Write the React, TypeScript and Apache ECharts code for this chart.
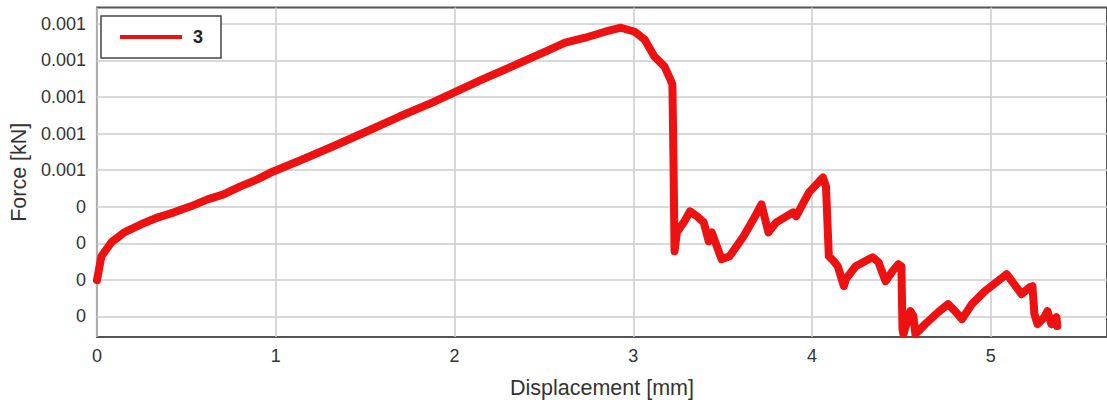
import React, { useEffect, useRef } from "react";
import * as echarts from "echarts";

// Displacement [mm]
const displacement: number[] = [
  0, 0.025, 0.081, 0.153, 0.247, 0.342, 0.431, 0.525, 0.619, 0.708, 0.803, 0.897,
  0.986, 1.081, 1.136, 1.319, 1.508, 1.692, 1.875, 2.008, 2.153, 2.319, 2.508,
  2.619, 2.731, 2.842, 2.931, 3.008, 3.064, 3.119, 3.175, 3.208, 3.219, 3.225,
  3.231, 3.244, 3.283, 3.317, 3.356, 3.394, 3.422, 3.439, 3.494, 3.539, 3.617,
  3.672, 3.717, 3.756, 3.8, 3.894, 3.911, 3.983, 4.061, 4.078, 4.094, 4.122, 4.144,
  4.178, 4.189, 4.244, 4.339, 4.372, 4.411, 4.45, 4.483, 4.5, 4.506, 4.511, 4.55,
  4.567, 4.578, 4.633, 4.706, 4.761, 4.8, 4.839, 4.894, 4.967, 5.039, 5.089, 5.122,
  5.172, 5.217, 5.233, 5.244, 5.261, 5.3, 5.317, 5.339, 5.367, 5.372,
];

// Force [kN]
const force: number[] = [
  0.0001992, 0.0002646, 0.0003028, 0.00033, 0.0003519, 0.000371, 0.0003846,
  0.000401, 0.00042, 0.0004337, 0.0004555, 0.0004746, 0.0004964, 0.0005155,
  0.0005264, 0.0005646, 0.0006055, 0.0006464, 0.0006846, 0.0007146, 0.0007473,
  0.0007827, 0.0008236, 0.0008482, 0.0008618, 0.0008782, 0.0008891, 0.0008782,
  0.0008564, 0.00081, 0.0007827, 0.0007473, 0.0007337, 0.0005291, 0.0002782,
  0.00033, 0.0003573, 0.0003873, 0.0003737, 0.0003573, 0.0003055, 0.00033,
  0.0002564, 0.0002646, 0.0003191, 0.0003655, 0.0004064, 0.00033, 0.0003573,
  0.0003846, 0.0003737, 0.0004391, 0.00048, 0.0004555, 0.0002646, 0.000251,
  0.0002373, 0.0001828, 0.0002019, 0.0002373, 0.0002619, 0.0002482, 0.0001964,
  0.0002237, 0.0002428, 0.0002373, 0.0000655, 0.0000519, 0.0001146, 0.000101,
  0.0000519, 0.0000792, 0.0001119, 0.0001337, 0.0001146, 0.0000928, 0.0001337,
  0.0001692, 0.0001964, 0.0002155, 0.0001937, 0.000161, 0.0001801, 0.0001828,
  0.0001064, 0.0000792, 0.0000982, 0.0001146, 0.0000792, 0.0000982, 0.0000737,
];

// Force axis tick values (labels are shown rounded to 3 decimals)
const yTicks: number[] = [
  0.0001, 0.0002, 0.0003, 0.0004, 0.0005, 0.0006, 0.0007, 0.0008, 0.0009,
];
// Displacement axis tick values
const xTicks: number[] = [0, 1, 2, 3, 4, 5];

const seriesName = "3";
const xTitle = "Displacement [mm]";
const yTitle = "Force [kN]";

export default function App() {
  const ref = useRef<HTMLDivElement>(null);

  useEffect(() => {
    if (!ref.current) return;
    const chart = echarts.init(ref.current, undefined, { renderer: "svg" });
    const data = displacement.map((x, i) => [x, force[i]]);
    const font = "'Liberation Sans', Arial, sans-serif";
    chart.setOption({
      animation: false,
      backgroundColor: "#ffffff",
      grid: {
        left: 95,
        top: 7.5,
        right: -5,
        bottom: 70,
        show: true,
        borderColor: "#555555",
        borderWidth: 2,
        backgroundColor: "transparent",
        containLabel: false,
      },
      legend: {
        show: true,
        left: 101,
        top: 16,
        orient: "horizontal",
        padding: [12, 18, 12, 19],
        borderColor: "#444444",
        borderWidth: 1.5,
        backgroundColor: "#ffffff",
        itemWidth: 62,
        itemHeight: 4,
        icon: "rect",
        itemGap: 10,
        textStyle: {
          fontFamily: font,
          fontWeight: "bold",
          fontSize: 18,
          color: "#222222",
          padding: [0, 0, 0, 6],
        },
        data: [seriesName],
      },
      xAxis: {
        type: "value",
        min: 0,
        max: 5.65,
        name: xTitle,
        nameLocation: "middle",
        nameGap: 40,
        nameTextStyle: { fontFamily: font, fontSize: 21.5, color: "#333333" },
        axisLine: { show: false },
        axisTick: { show: false, customValues: xTicks },
        axisLabel: {
          customValues: xTicks,
          margin: 10,
          fontFamily: font,
          fontSize: 18,
          color: "#333333",
        },
        splitLine: { show: true, lineStyle: { color: "#cccccc", width: 1.5 } },
      },
      yAxis: {
        type: "value",
        min: 0.0000439,
        max: 0.0009444,
        name: yTitle,
        nameLocation: "middle",
        nameGap: 62,
        nameTextStyle: { fontFamily: font, fontSize: 21.5, color: "#333333" },
        axisLine: { show: false },
        axisTick: { show: false, customValues: yTicks },
        axisLabel: {
          customValues: yTicks,
          margin: 11,
          fontFamily: font,
          fontSize: 18,
          color: "#333333",
          formatter: (v: number) => String(Math.round(v * 1000) / 1000),
        },
        splitLine: { show: true, lineStyle: { color: "#cccccc", width: 1.5 } },
      },
      series: [
        {
          name: seriesName,
          type: "line",
          data,
          showSymbol: false,
          symbol: "none",
          lineStyle: { color: "#ee1111", width: 8, join: "round", cap: "round" },
          itemStyle: { color: "#ee1111" },
          z: 3,
        },
      ],
    });
    return () => chart.dispose();
  }, []);

  return (
    <div
      ref={ref}
      style={{ position: "absolute", left: 0, top: 0, width: 1107, height: 407 }}
    />
  );
}
